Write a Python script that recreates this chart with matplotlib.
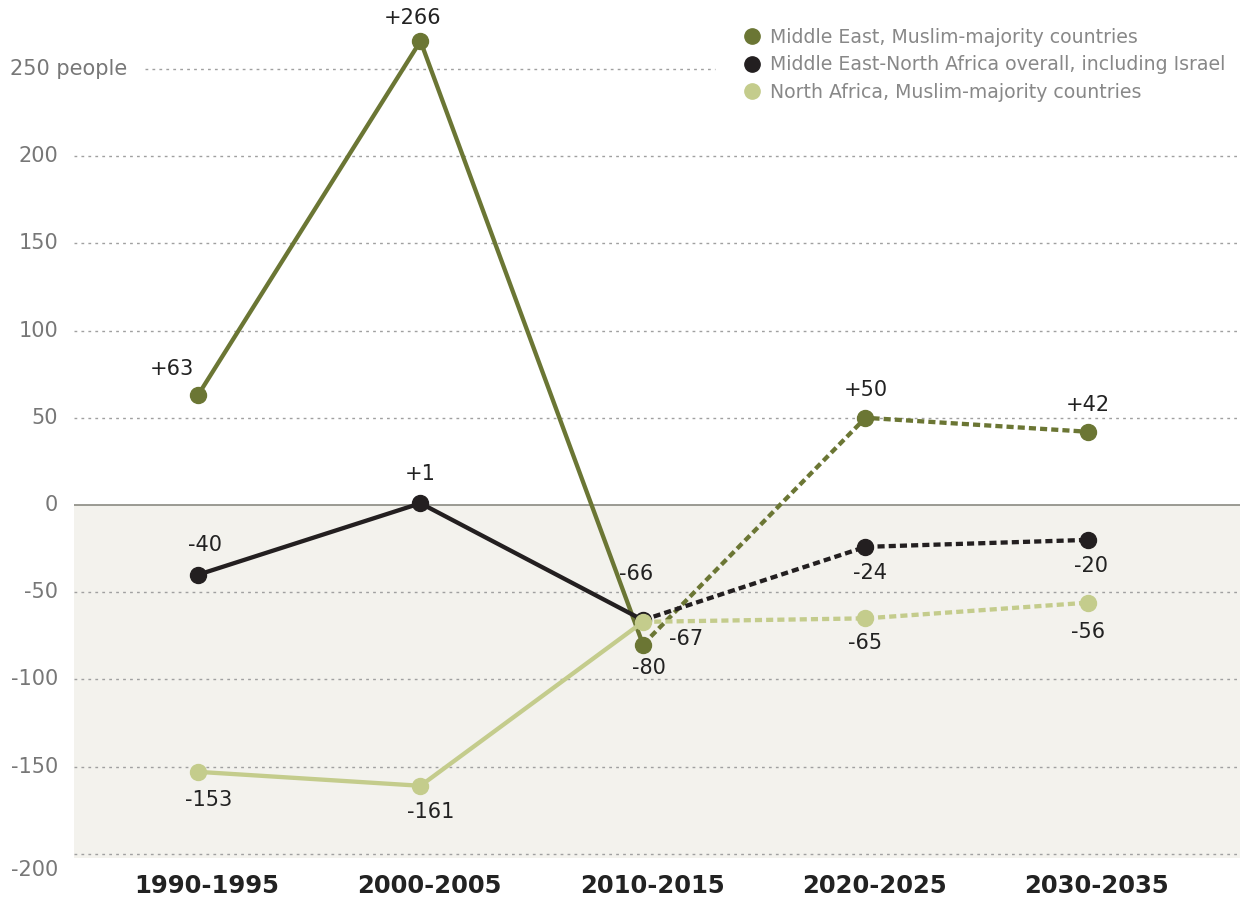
import matplotlib.pyplot as plt
from matplotlib.lines import Line2D

periods = ["1990-1995", "2000-2005", "2010-2015", "2020-2025", "2030-2035"]
me_muslim = [63, 266, -80, 50, 42]
mena_all = [-40, 1, -66, -24, -20]
na_muslim = [-153, -161, -67, -65, -56]
series_names = ["Middle East, Muslim-majority countries",
                "Middle East-North Africa overall, including Israel",
                "North Africa, Muslim-majority countries"]
yticks = [250, 200, 150, 100, 50, 0, -50, -100, -150, -200]

c_me = "#6b7634"
c_all = "#231f20"
c_na = "#c4cc8c"
txt = "#222222"

W, H = 1241, 901
fig = plt.figure(figsize=(W / 100, H / 100), dpi=100)
# axes: x from px 74 to 1240, y from px 0 to 858
ax = fig.add_axes([74 / W, (H - 858) / H, (1240 - 74) / W, 858 / H])
px_per_unit = 436 / 250
ax.set_xlim((74 - 198) / 222.5, (1240 - 198) / 222.5)
ax.set_ylim(-(858 - 505) / px_per_unit, 505 / px_per_unit)
for s in ax.spines.values():
    s.set_visible(False)
ax.set_xticks([])
ax.set_yticks([])

ax.axhspan(-300, 0, color="#f3f2ed", zorder=0)
for v in yticks:
    if v == 0:
        ax.axhline(0, color="#8a8a82", lw=1.2, zorder=1)
    elif v == 250:
        # top line stops short of the legend
        ax.axhline(v, xmin=0.061, xmax=0.55, color="#a0a0a0", lw=1,
                   ls=(0, (2, 3)), zorder=1)
    else:
        ax.axhline(v, color="#a0a0a0", lw=1, ls=(0, (2, 3)), zorder=1)

x = list(range(len(periods)))
for ys, col in [(me_muslim, c_me), (mena_all, c_all), (na_muslim, c_na)]:
    ax.plot(x[:3], ys[:3], color=col, lw=3.1, zorder=3, solid_capstyle="butt")
    ax.plot(x[2:], ys[2:], color=col, lw=3.1, ls=(0, (1.65, 0.95)), zorder=3)
for ys, col in [(me_muslim, c_me), (mena_all, c_all), (na_muslim, c_na)]:
    ax.plot(x, ys, "o", color=col, ms=11.5, zorder=4, ls="none")

def lab(v):
    return ("+%d" % v) if v > 0 else ("%d" % v)

fs = 15
# point label offsets in points
offs = {
    "me": [(-19, 19), (-6, 16.5), (4, -17), (0, 20), (0, 19)],
    "all": [(5, 21.5), (0, 21), (-5, 33), (3, -19), (2, -19)],
    "na": [(8, -20), (7, -19), (31, -12), (0, -18), (0, -21)],
}
for key, ys in [("me", me_muslim), ("all", mena_all), ("na", na_muslim)]:
    for i, v in enumerate(ys):
        dx, dy = offs[key][i]
        ax.annotate(lab(v), (i, v), xytext=(dx, dy), textcoords="offset points",
                    ha="center", va="center", fontsize=fs, color=txt, zorder=5)

# y tick labels
for v in yticks:
    ypix = 505 - v * px_per_unit
    if v == -200:
        ypix = 870
    if v == 250:
        fig.text(10 / W, 1 - ypix / H, "250 people", ha="left", va="center",
                 fontsize=fs, color="#777777")
    else:
        fig.text(58 / W, 1 - ypix / H, str(v), ha="right", va="center",
                 fontsize=fs, color="#777777")

for i, p in enumerate(periods):
    xpix = 207 + i * 222.5
    fig.text(xpix / W, 1 - 886 / H, p, ha="center", va="center",
             fontsize=17.5, fontweight="bold", color=txt)

handles = [Line2D([], [], marker="o", ls="none", color=c, ms=11)
           for c in (c_me, c_all, c_na)]
fig.legend(handles, series_names, loc="upper left",
           bbox_to_anchor=(743 / W, 1 - 28 / H), frameon=False,
           fontsize=13.6, labelcolor="#888888", handletextpad=0.45,
           labelspacing=0.45, handlelength=1.0, borderaxespad=0, borderpad=0)

fig.savefig("out.png", dpi=100)
